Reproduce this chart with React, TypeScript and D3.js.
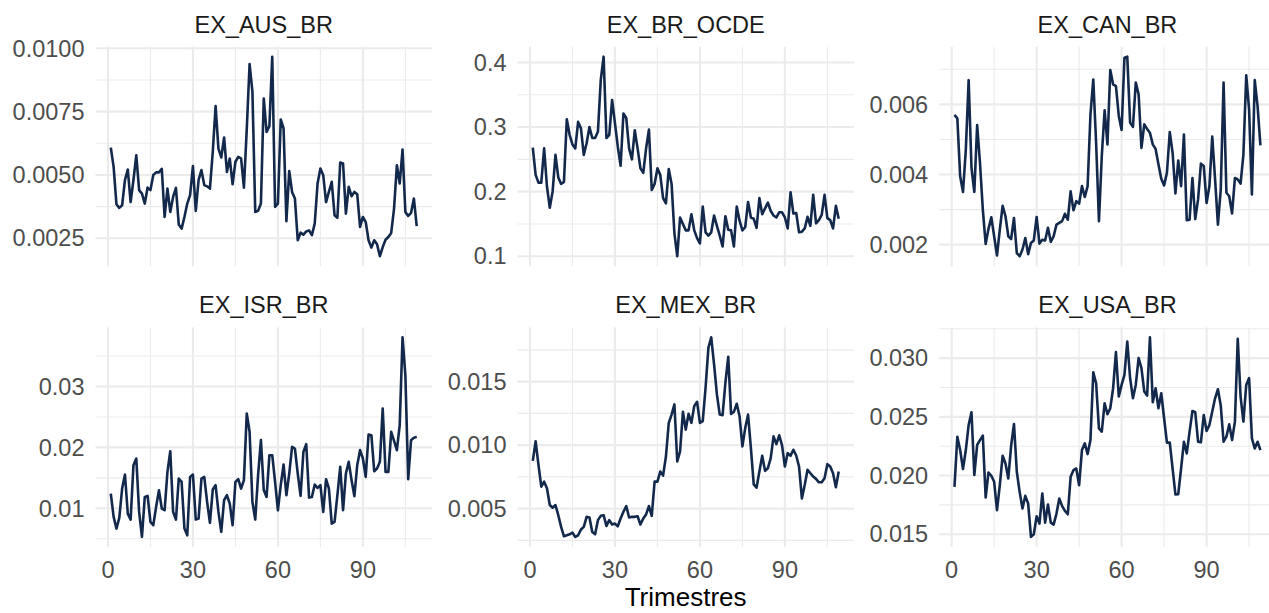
import React from 'react';
import * as d3 from 'd3';

const W = 1269;
const H = 613;

const quarters = d3.range(1, 110);

const panelNames = ["EX_AUS_BR", "EX_BR_OCDE", "EX_CAN_BR", "EX_ISR_BR", "EX_MEX_BR", "EX_USA_BR"];

const exAusBr = [0.00608,0.00532,0.00384,0.0037,0.0038,0.0048,0.00521,0.00393,0.0048,0.00578,
0.0044,0.00426,0.00387,0.0045,0.0044,0.005,0.0051,0.0051,0.00524,0.00334,
0.00446,0.00354,0.00413,0.00449,0.00304,0.00288,0.00334,0.00387,0.0042,0.00535,
0.00358,0.0048,0.00519,0.0046,0.00455,0.00446,0.00591,0.00772,0.00604,0.00569,
0.00648,0.00512,0.00565,0.00463,0.00552,0.00571,0.00565,0.0045,0.0068,0.00938,
0.00829,0.00354,0.00358,0.00387,0.00802,0.0067,0.00693,0.00967,0.00374,0.00387,
0.00719,0.00684,0.00317,0.00515,0.00433,0.00407,0.00242,0.00272,0.00264,0.00277,
0.00281,0.00262,0.00308,0.00466,0.00525,0.00499,0.00393,0.00433,0.00473,0.00341,
0.00331,0.00549,0.00545,0.00347,0.00453,0.00416,0.00433,0.00424,0.00295,0.00334,
0.00314,0.00242,0.00213,0.00242,0.00226,0.00179,0.00215,0.00244,0.00255,0.00271,
0.00367,0.00538,0.00466,0.006,0.00354,0.00338,0.0035,0.00407,0.00298];

const exBrOcde = [0.268,0.226,0.214,0.214,0.267,0.208,0.175,0.2,0.257,0.222,
0.212,0.215,0.312,0.288,0.273,0.267,0.308,0.298,0.257,0.275,
0.3,0.283,0.283,0.293,0.373,0.409,0.283,0.288,0.342,0.306,
0.27,0.24,0.321,0.314,0.267,0.25,0.295,0.267,0.236,0.229,
0.267,0.296,0.2025,0.212,0.236,0.226,0.19,0.182,0.235,0.212,
0.135,0.1,0.16,0.15,0.14,
0.14,0.165,0.14,0.128,0.12,0.177,0.137,0.132,0.137,0.163,
0.147,0.132,0.115,0.162,0.141,0.14,0.115,0.177,0.155,0.14,
0.145,0.184,0.16,0.158,0.144,0.19,0.165,0.174,0.183,0.17,
0.163,0.16,0.168,0.168,0.16,0.143,0.199,0.166,0.167,0.137,
0.138,0.143,0.161,0.147,0.195,0.151,0.156,0.164,0.195,0.159,
0.156,0.143,0.178,0.158];

const exCanBr = [0.0057,0.0056,0.00395,0.0035,0.00471,0.00669,0.00419,0.0035,0.00541,0.00433,
0.003,0.00202,0.00245,0.00278,0.00224,0.00169,0.00243,0.00311,0.00281,0.00224,
0.00216,0.00276,0.00176,0.00167,0.00186,0.00219,0.00173,0.00205,0.00212,0.00279,
0.00203,0.00214,0.00212,0.00248,0.00208,0.00224,0.00257,0.00262,0.00267,0.00288,
0.00271,0.00352,0.00298,0.00324,0.00317,0.00367,0.00336,0.00367,0.00571,0.00671,
0.0049,0.00267,0.00452,0.00583,
0.00486,0.00698,0.00657,0.00652,0.00567,0.00527,0.00733,0.00736,0.00548,0.00536,
0.00662,0.00629,0.00476,0.00543,0.0053,0.00519,0.00486,0.00473,0.00429,0.00388,
0.00369,0.00405,0.00521,0.00462,0.00346,0.0044,0.00367,0.00514,0.0027,0.00271,
0.0039,0.00273,0.00329,0.00431,0.00424,0.00319,0.00367,0.00508,0.00386,0.00257,
0.00357,0.00662,0.00348,0.00338,0.00289,0.0039,0.00386,0.00374,0.00457,0.00683,
0.00586,0.00343,0.00669,0.00595,0.00483];

const exIsrBr = [0.01242,0.00859,0.00667,0.00842,0.01324,0.01555,0.00913,0.00815,0.01708,0.01818,
0.00941,0.0053,0.01187,0.01204,0.00776,0.00722,0.01023,0.01297,0.00996,0.00968,
0.01598,0.01938,0.00941,0.00815,0.01489,0.01434,0.00667,0.00557,0.01516,0.01555,
0.00815,0.00831,0.01489,0.01516,0.01105,0.0076,0.01308,0.01379,0.00941,0.00612,
0.01133,0.01215,0.01078,0.00722,0.01434,0.01478,0.01324,0.01462,0.02557,0.02256,
0.01105,0.00815,0.01544,0.02119,0.013,
0.01187,0.01872,0.01872,0.01434,0.00968,0.01379,0.01719,0.01215,0.01571,0.02009,
0.01982,0.01571,0.01204,0.01927,0.02053,0.01176,0.01187,0.0139,0.01335,0.01379,
0.00941,0.01478,0.01324,0.00749,0.00776,0.01215,0.01681,0.00968,0.01571,0.01763,
0.01462,0.01198,0.01708,0.01955,0.01818,0.01516,0.02212,0.02201,0.01609,0.01653,
0.01763,0.0264,0.01598,0.01598,0.02256,0.02108,0.01955,0.02366,0.03807,0.03188,
0.01478,0.02119,0.02157,0.02174];

const exMexBr = [0.00876,0.01029,0.00845,0.00673,0.00712,0.0066,0.00528,0.00507,0.00528,0.00448,
0.00356,0.00282,0.0029,0.00298,0.00311,0.00277,0.0029,0.00335,0.00356,0.00435,
0.0043,0.00316,0.00298,0.00409,0.00443,0.00448,0.00364,0.00409,0.00375,0.00382,
0.00361,0.00422,0.00475,0.0052,0.0043,0.00435,0.00435,0.0044,0.00375,0.00422,
0.00454,0.0052,0.00443,0.00712,0.00712,0.00792,0.0076,0.0091,0.01174,0.0124,
0.0132,0.00871,0.0095,0.01262,0.01122,
0.01246,0.01175,0.01307,0.01341,0.01175,0.01188,0.01452,0.01768,0.01848,0.01636,
0.01399,0.0124,0.01235,0.01491,0.01695,0.01246,0.01262,0.01325,0.01227,0.0099,
0.01135,0.0124,0.00976,0.00691,0.00665,0.00792,0.00916,0.00797,0.00818,0.00897,
0.01069,0.01008,0.01077,0.00998,0.00831,0.00937,0.00916,0.00963,0.00918,0.00831,
0.0058,0.00686,0.00805,0.00778,0.00752,0.00734,0.00707,0.00707,0.00739,0.0085,
0.00831,0.00778,0.00668,0.00792];

const exUsaBr = [0.01904,0.02331,0.02217,0.02055,0.02217,0.02431,0.02539,0.02004,0.0226,0.02302,
0.0234,0.01813,0.02026,0.01998,0.01947,0.01705,0.01918,0.02169,0.02103,0.01975,
0.02254,0.02439,0.02032,0.01861,0.01719,0.01827,0.01762,0.01477,0.015,0.01653,
0.01591,0.01847,0.01599,0.01753,0.01599,0.01582,0.01676,0.01804,0.01739,0.01699,
0.0167,0.01989,0.02046,0.0206,0.01918,0.02217,0.02274,0.02183,0.02302,0.0288,
0.02786,0.02402,0.02374,0.02616,
0.02522,0.02573,0.02744,0.03051,0.02673,0.02772,0.02858,0.03142,0.02829,0.02658,
0.02772,0.03,0.02915,0.02715,0.02681,0.03177,0.02624,0.02744,0.02573,0.02701,
0.02488,0.0228,0.0228,0.0206,0.01838,0.01841,0.0206,0.02288,0.02189,0.02374,
0.0255,0.02539,0.02288,0.02283,0.02516,0.02379,0.02431,0.02545,0.02658,0.02735,
0.02596,0.02288,0.02331,0.02436,0.02302,0.02459,0.03165,0.02673,0.02459,0.02772,
0.0283,0.02317,0.02231,0.02288,0.02217];

const xTicks = [0, 30, 60, 90];
const xTickLabels = ["0", "30", "60", "90"];

const yTicksAus = [0.0025, 0.005, 0.0075, 0.01];
const yLabelsAus = ["0.0025", "0.0050", "0.0075", "0.0100"];
const yTicksOcde = [0.1, 0.2, 0.3, 0.4];
const yLabelsOcde = ["0.1", "0.2", "0.3", "0.4"];
const yTicksCan = [0.002, 0.004, 0.006];
const yLabelsCan = ["0.002", "0.004", "0.006"];
const yTicksIsr = [0.01, 0.02, 0.03];
const yLabelsIsr = ["0.01", "0.02", "0.03"];
const yTicksMex = [0.005, 0.01, 0.015];
const yLabelsMex = ["0.005", "0.010", "0.015"];
const yTicksUsa = [0.015, 0.02, 0.025, 0.03];
const yLabelsUsa = ["0.015", "0.020", "0.025", "0.030"];

const seriesList = [exAusBr, exBrOcde, exCanBr, exIsrBr, exMexBr, exUsaBr];
const yTicksList = [yTicksAus, yTicksOcde, yTicksCan, yTicksIsr, yTicksMex, yTicksUsa];
const yLabelsList = [yLabelsAus, yLabelsOcde, yLabelsCan, yLabelsIsr, yLabelsMex, yLabelsUsa];

const xTitle = "Trimestres";

const FONT = '"Liberation Sans", Arial, Helvetica, sans-serif';
const GRID = "#EBEBEB";
const LINE = "#13294B";

function minorBreaks(major: number[], lo: number, hi: number) {
  const step = major[1] - major[0];
  const out: number[] = [];
  const all = [major[0] - step, ...major, major[major.length - 1] + step];
  for (let i = 0; i < all.length - 1; i++) {
    const m = (all[i] + all[i + 1]) / 2;
    if (m >= lo && m <= hi) out.push(m);
  }
  return out;
}

export default function App() {
  const panelW = 336.5;
  const panelH = 219.5;
  const colLeft = [95.5, 517.5, 939.2];
  const rowTop = [46.7, 327.4];
  const tickFont = 23.5;
  const stripFont = 23.5;
  const titleFont = 26;

  const xExt = d3.extent(quarters) as [number, number];
  const xPad = (xExt[1] - xExt[0]) * 0.05;
  const xDomain: [number, number] = [xExt[0] - xPad, xExt[1] + xPad];

  const panels = seriesList.map((vals, i) => {
    const col = i % 3;
    const row = Math.floor(i / 3);
    const left = colLeft[col];
    const top = rowTop[row];
    const x = d3.scaleLinear().domain(xDomain).range([left, left + panelW]);
    const ext = d3.extent(vals) as [number, number];
    const pad = (ext[1] - ext[0]) * 0.05;
    const yDomain: [number, number] = [ext[0] - pad, ext[1] + pad];
    const y = d3.scaleLinear().domain(yDomain).range([top + panelH, top]);
    const line = d3.line<number>().x((_, j) => x(quarters[j])).y((d) => y(d));
    const yMajor = yTicksList[i].filter((t) => t >= yDomain[0] && t <= yDomain[1]);
    const yMinor = minorBreaks(yTicksList[i], yDomain[0], yDomain[1]);
    const xMajor = xTicks.filter((t) => t >= xDomain[0] && t <= xDomain[1]);
    const xMinor = minorBreaks(xTicks, xDomain[0], xDomain[1]);
    return (
      <g key={i}>
        {yMinor.map((t) => (
          <line key={"ym" + t} x1={left} x2={left + panelW} y1={y(t)} y2={y(t)} stroke={GRID} strokeWidth={1.1} />
        ))}
        {xMinor.map((t) => (
          <line key={"xm" + t} x1={x(t)} x2={x(t)} y1={top} y2={top + panelH} stroke={GRID} strokeWidth={1.1} />
        ))}
        {yMajor.map((t) => (
          <line key={"yM" + t} x1={left} x2={left + panelW} y1={y(t)} y2={y(t)} stroke={GRID} strokeWidth={2.1} />
        ))}
        {xMajor.map((t) => (
          <line key={"xM" + t} x1={x(t)} x2={x(t)} y1={top} y2={top + panelH} stroke={GRID} strokeWidth={2.1} />
        ))}
        <path d={line(vals) || ""} fill="none" stroke={LINE} strokeWidth={2.6} strokeLinejoin="round" strokeLinecap="butt" />
        {yTicksList[i].map((t, k) =>
          t >= yDomain[0] && t <= yDomain[1] ? (
            <text key={"yl" + k} x={left - 11} y={y(t)} dy="0.35em" textAnchor="end" fontSize={tickFont} fill="#4D4D4D" fontFamily={FONT}>
              {yLabelsList[i][k]}
            </text>
          ) : null
        )}
        {row === 1 &&
          xTicks.map((t, k) => (
            <text key={"xl" + k} x={x(t)} y={top + panelH + 22.5} dy="0.35em" textAnchor="middle" fontSize={tickFont} fill="#4D4D4D" fontFamily={FONT}>
              {xTickLabels[k]}
            </text>
          ))}
        <text x={left + panelW / 2} y={row === 0 ? 25 : 305} dy="0.35em" textAnchor="middle" fontSize={stripFont} fill="#1A1A1A" fontFamily={FONT}>
          {panelNames[i]}
        </text>
      </g>
    );
  });

  return (
    <svg width={W} height={H} viewBox={`0 0 ${W} ${H}`} style={{ position: "absolute", left: 0, top: 0, display: "block", background: "#FFFFFF" }}>
      <rect x={0} y={0} width={W} height={H} fill="#FFFFFF" />
      {panels}
      <text x={(colLeft[0] + colLeft[2] + panelW) / 2} y={606} textAnchor="middle" fontSize={titleFont} fill="#000000" fontFamily={FONT}>
        {xTitle}
      </text>
    </svg>
  );
}
